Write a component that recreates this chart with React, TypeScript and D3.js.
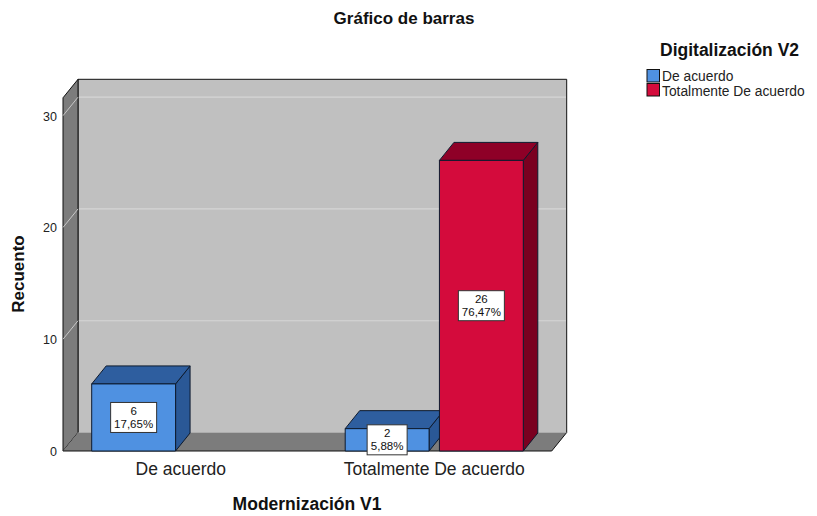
import React from "react";
import * as d3 from "d3";

const categories = ["De acuerdo", "Totalmente De acuerdo"];
const seriesNames = ["De acuerdo", "Totalmente De acuerdo"];
const countsDeAcuerdo = [6, 2];
const countsTotalmente = [0, 26];
const pctDeAcuerdo = ["17,65%", "5,88%"];
const pctTotalmente = ["0,00%", "76,47%"];
const yTicks = [0, 10, 20, 30];

const W = 817;
const H = 516;
const FONT = "'Liberation Sans', Arial, sans-serif";

const seriesStyle = [
  { front: "#4f91e1", top: "#2e5e9f", side: "#2a5896" },
  { front: "#d40b3c", top: "#8e0027", side: "#7a0020" },
];

export default function App() {
  const y = d3.scaleLinear().domain([0, 31.6]).range([451, 97.8]);
  const x0 = d3.scaleBand<string>().domain(categories).range([54, 561]);
  const x1 = d3
    .scaleBand<string>()
    .domain(seriesNames)
    .range([0, x0.bandwidth()])
    .paddingInner(0.11)
    .paddingOuter(0.4);

  const wallDx = 15;
  const wallDy = 18.5;
  const barDx = 14.5;
  const barDy = 18;
  const left = 63;
  const right = 551.7;
  const y0 = y(0);
  const yTop = y(31.6);

  const data = categories.map((c, i) => ({
    cat: c,
    values: [
      { s: seriesNames[0], v: countsDeAcuerdo[i], p: pctDeAcuerdo[i], k: 0 },
      { s: seriesNames[1], v: countsTotalmente[i], p: pctTotalmente[i], k: 1 },
    ],
  }));

  const bars: any[] = [];
  data.forEach((d) =>
    d.values.forEach((b) => {
      if (b.v > 0) {
        bars.push({ ...b, x: (x0(d.cat) as number) + (x1(b.s) as number), w: x1.bandwidth() });
      }
    })
  );

  const pts = (a: number[][]) => a.map((p) => p.join(",")).join(" ");

  return (
    <svg
      width={W}
      height={H}
      style={{ position: "absolute", left: 0, top: 0, background: "#fff" }}
      fontFamily={FONT}
    >
      <rect x={0} y={0} width={W} height={H} fill="#fff" />
      {/* title */}
      <text x={404} y={24} textAnchor="middle" fontSize={17} fontWeight="bold" fill="#111">
        Gráfico de barras
      </text>

      {/* back wall */}
      <rect
        x={left + wallDx}
        y={yTop - wallDy}
        width={right - left}
        height={y0 - yTop}
        fill="#c0c0c0"
      />
      {yTicks.filter((t) => t > 0).map((t) => (
        <line
          key={"bg" + t}
          x1={left + wallDx}
          x2={right + wallDx}
          y1={y(t) - wallDy}
          y2={y(t) - wallDy}
          stroke="#d6d6d6"
          strokeWidth={1.2}
        />
      ))}
      <polyline
        points={pts([
          [left + wallDx, y0 - wallDy],
          [left + wallDx, yTop - wallDy],
          [right + wallDx, yTop - wallDy],
          [right + wallDx, y0 - wallDy],
        ])}
        fill="none"
        stroke="#111"
        strokeWidth={1}
      />

      {/* left wall */}
      <polygon
        points={pts([
          [left, y0],
          [left, yTop],
          [left + wallDx, yTop - wallDy],
          [left + wallDx, y0 - wallDy],
        ])}
        fill="#7c7c7c"
        stroke="#111"
        strokeWidth={1}
      />
      {yTicks.filter((t) => t > 0).map((t) => (
        <line
          key={"lg" + t}
          x1={left}
          x2={left + wallDx}
          y1={y(t)}
          y2={y(t) - wallDy}
          stroke="#c8c8c8"
          strokeWidth={1}
        />
      ))}

      {/* floor */}
      <polygon
        points={pts([
          [left, y0],
          [left + wallDx, y0 - wallDy],
          [right + wallDx, y0 - wallDy],
          [right, y0],
        ])}
        fill="#7c7c7c"
      />
      <polyline
        points={pts([
          [left, y0],
          [right, y0],
          [right + wallDx, y0 - wallDy],
        ])}
        fill="none"
        stroke="#111"
        strokeWidth={1}
      />

      {/* y ticks */}
      {yTicks.map((t) => (
        <text
          key={"yt" + t}
          x={57}
          y={y(t) + 5}
          textAnchor="end"
          fontSize={12.5}
          fill="#222"
        >
          {t}
        </text>
      ))}

      {/* bars */}
      {bars.map((b, i) => {
        const st = seriesStyle[b.k];
        const yv = y(b.v);
        return (
          <g key={"b" + i} stroke="#0d1a2e" strokeWidth={1} strokeLinejoin="round">
            <polygon
              points={pts([
                [b.x + b.w, yv],
                [b.x + b.w + barDx, yv - barDy],
                [b.x + b.w + barDx, y0 - barDy],
                [b.x + b.w, y0],
              ])}
              fill={st.side}
            />
            <polygon
              points={pts([
                [b.x, yv],
                [b.x + barDx, yv - barDy],
                [b.x + b.w + barDx, yv - barDy],
                [b.x + b.w, yv],
              ])}
              fill={st.top}
            />
            <rect x={b.x} y={yv} width={b.w} height={y0 - yv} fill={st.front} />
          </g>
        );
      })}

      {/* value labels */}
      {bars.map((b, i) => {
        const cx = b.x + b.w / 2;
        const cy = (y(b.v) + y0) / 2;
        const bw = b.p.length >= 6 ? 46 : 40;
        const bh = 30;
        return (
          <g key={"l" + i}>
            <rect
              x={cx - bw / 2}
              y={cy - bh / 2}
              width={bw}
              height={bh}
              fill="#fff"
              stroke="#333"
              strokeWidth={1}
            />
            <text x={cx} y={cy - 2.5} textAnchor="middle" fontSize={11.5} fill="#111">
              {b.v}
            </text>
            <text x={cx} y={cy + 10.5} textAnchor="middle" fontSize={11.5} fill="#111">
              {b.p}
            </text>
          </g>
        );
      })}

      {/* category labels */}
      {categories.map((c) => (
        <text
          key={"c" + c}
          x={(x0(c) as number) + x0.bandwidth() / 2}
          y={475}
          textAnchor="middle"
          fontSize={17.5}
          fill="#222"
        >
          {c}
        </text>
      ))}

      {/* axis titles */}
      <text x={307} y={510} textAnchor="middle" fontSize={17.5} fontWeight="bold" fill="#111">
        Modernización V1
      </text>
      <text
        transform={`translate(24,274) rotate(-90)`}
        textAnchor="middle"
        fontSize={17}
        fontWeight="bold"
        fill="#111"
      >
        Recuento
      </text>

      {/* legend */}
      <text x={660} y={56} fontSize={17.5} fontWeight="bold" fill="#111">
        Digitalización V2
      </text>
      {seriesNames.map((s, i) => (
        <g key={"lg" + s}>
          <rect
            x={647}
            y={69.5 + i * 14}
            width={12.5}
            height={12.5}
            fill={seriesStyle[i].front}
            stroke="#111"
            strokeWidth={1}
          />
          <text x={662} y={81 + i * 15} fontSize={13.8} fill="#222">
            {s}
          </text>
        </g>
      ))}
    </svg>
  );
}
